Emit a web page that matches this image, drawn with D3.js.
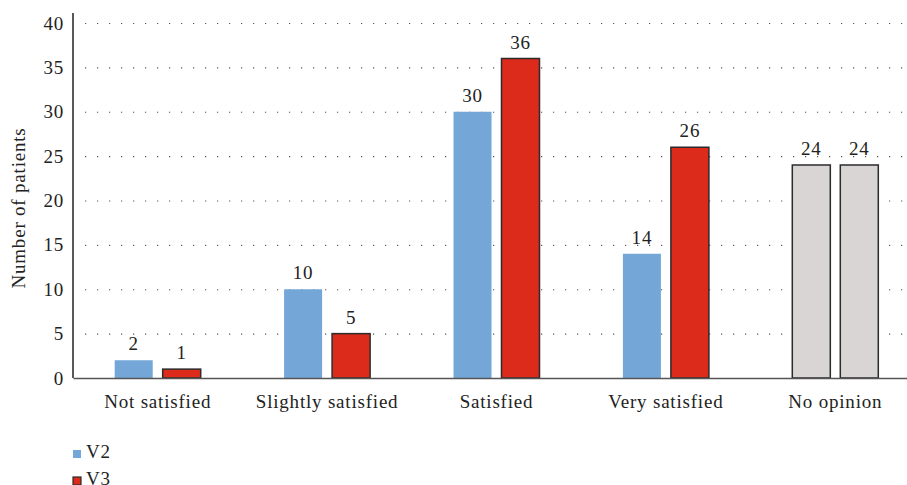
<!DOCTYPE html>
<html>
<head>
<meta charset="utf-8">
<script src="https://cdn.jsdelivr.net/npm/d3@7"></script>
<style>
  body { margin: 0; background: #fff; }
  svg { display: block; font-family: "Liberation Serif", "DejaVu Serif", serif; }
  svg text { font-family: "Liberation Serif", "DejaVu Serif", serif; letter-spacing: 0.8px; }
</style>
</head>
<body>
<svg id="chart"></svg>
<script>
const categories = ["Not satisfied", "Slightly satisfied", "Satisfied", "Very satisfied", "No opinion"];
const series = ["V2", "V3"];
const v2Values = [2, 10, 30, 14, 24];
const v3Values = [1, 5, 36, 26, 24];
const yTicks = [0, 5, 10, 15, 20, 25, 30, 35, 40];

const width = 907;
const height = 485;
const margin = { top: 23, right: -13, bottom: 107, left: 73 };
const fontSize = 19;

const svg = d3.select("#chart").attr("width", width).attr("height", height);

const data = categories.map((c, i) => ({ category: c, V2: v2Values[i], V3: v3Values[i] }));

const x0 = d3.scaleBand().domain(categories).range([margin.left, width - margin.right]);
const x1 = d3.scaleBand().domain(series).range([x0.bandwidth() / 2 - 43, x0.bandwidth() / 2 + 43]).paddingInner(0.208);
const y = d3.scaleLinear().domain([0, 40]).range([height - margin.bottom, margin.top]);

const fill = (s, cat) => cat === "No opinion" ? "#d9d5d4" : (s === "V2" ? "#74a7d7" : "#dc2a1b");
const stroke = (s, cat) => (s === "V3" || cat === "No opinion") ? "#2b2b2b" : "none";

// ── Gridlines ──
svg.append("g")
  .attr("transform", `translate(${margin.left},0)`)
  .call(d3.axisLeft(y).tickValues(yTicks.filter(t => t > 0)).tickSize(-(width - margin.left)).tickFormat(""))
  .call(g => g.select(".domain").remove())
  .call(g => g.selectAll(".tick line")
    .attr("stroke", "#555")
    .attr("stroke-width", 1.2)
    .attr("stroke-dasharray", "1.2,10.8")
    .attr("transform", "translate(12,0)"));

// ── Y axis ──
svg.append("g")
  .attr("transform", `translate(${margin.left},0)`)
  .call(d3.axisLeft(y).tickValues(yTicks).tickSize(0).tickPadding(9))
  .call(g => g.select(".domain").remove())
  .call(g => g.selectAll("text").attr("font-size", fontSize).attr("fill", "#222"));

svg.append("line")
  .attr("x1", margin.left).attr("x2", margin.left)
  .attr("y1", y(40) - 10).attr("y2", y(0))
  .attr("stroke", "#222").attr("stroke-width", 1.5);

svg.append("text")
  .attr("transform", `translate(25,208) rotate(-90)`)
  .attr("text-anchor", "middle")
  .attr("font-size", fontSize)
  .attr("fill", "#222")
  .text("Number of patients");

// ── Bars ──
const groups = svg.selectAll(".cat")
  .data(data)
  .join("g")
  .attr("class", "cat")
  .attr("transform", d => `translate(${x0(d.category)},0)`);

groups.selectAll("rect")
  .data(d => series.map(s => ({ s, cat: d.category, v: d[s] })))
  .join("rect")
  .attr("x", d => x1(d.s))
  .attr("width", x1.bandwidth())
  .attr("y", d => y(d.v))
  .attr("height", d => y(0) - y(d.v))
  .attr("fill", d => fill(d.s, d.cat))
  .attr("stroke", d => stroke(d.s, d.cat))
  .attr("stroke-width", 1.5);

groups.selectAll("text.val")
  .data(d => series.map(s => ({ s, v: d[s] })))
  .join("text")
  .attr("class", "val")
  .attr("x", d => x1(d.s) + x1.bandwidth() / 2)
  .attr("y", d => y(d.v) - 10)
  .attr("text-anchor", "middle")
  .attr("font-size", fontSize)
  .attr("fill", "#222")
  .text(d => d.v);

// ── X axis ──
svg.append("g")
  .attr("transform", `translate(0,${y(0)})`)
  .call(d3.axisBottom(x0).tickSize(0).tickPadding(17))
  .call(g => g.select(".domain").attr("stroke", "#555").attr("stroke-width", 1.5))
  .call(g => g.selectAll("text").attr("font-size", fontSize).attr("fill", "#222"));

// ── Legend ──
const legend = svg.append("g").attr("transform", `translate(${margin.left},450)`);
series.forEach((s, i) => {
  const row = legend.append("g").attr("transform", `translate(0,${i * 27})`);
  row.append("rect")
    .attr("width", 8).attr("height", 8)
    .attr("fill", fill(s, ""))
    .attr("stroke", stroke(s, ""))
    .attr("stroke-width", 1.2);
  row.append("text")
    .attr("x", 13).attr("y", 7.5)
    .attr("font-size", fontSize).attr("fill", "#222")
    .text(s);
});
</script>
</body>
</html>
